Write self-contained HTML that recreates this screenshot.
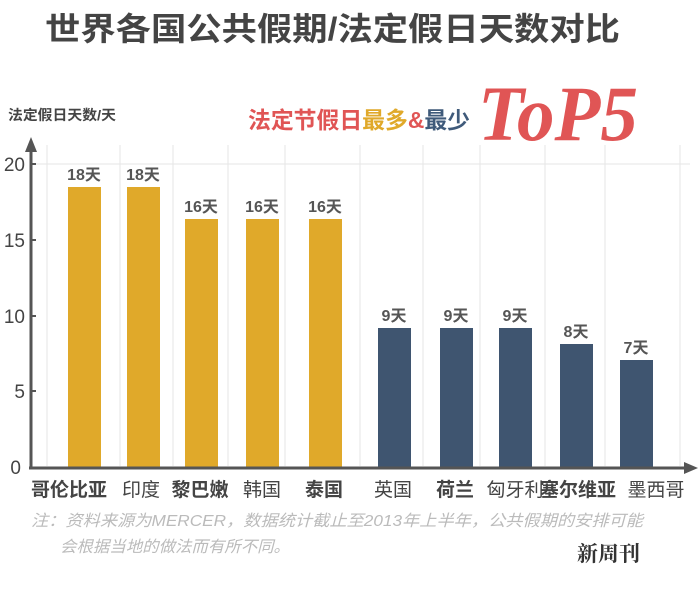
<!DOCTYPE html><html><head><meta charset="utf-8"><style>
body{margin:0;background:#fff;width:700px;height:585px;overflow:hidden;font-family:"Liberation Sans","Noto Sans CJK SC",sans-serif}
</style></head><body>
<svg width="700" height="585" xmlns="http://www.w3.org/2000/svg" font-family="Liberation Sans, Noto Sans CJK SC, sans-serif">
<text x="45" y="40" font-size="32" font-weight="bold" fill="#444" textLength="575" lengthAdjust="spacingAndGlyphs">世界各国公共假期/法定假日天数对比</text>
<text x="8" y="120" font-size="14" font-weight="bold" fill="#444" textLength="108" lengthAdjust="spacingAndGlyphs">法定假日天数/天</text>
<text x="248" y="128" font-size="23" font-weight="bold" textLength="222" lengthAdjust="spacingAndGlyphs"><tspan fill="#e05555">法定节假日</tspan><tspan fill="#e0a92a">最多</tspan><tspan fill="#e05555">&amp;</tspan><tspan fill="#3f5a7a">最少</tspan></text>
<text x="478" y="140" font-size="78" font-style="italic" font-weight="bold" fill="#e05555" font-family="Liberation Serif, serif" textLength="160" lengthAdjust="spacingAndGlyphs">ToP5</text>
<g stroke="#e6e6e6" stroke-width="1">
<line x1="35" y1="164" x2="690" y2="164"/>
<line x1="47" y1="145" x2="47" y2="466"/><line x1="120" y1="145" x2="120" y2="466"/><line x1="173" y1="145" x2="173" y2="466"/><line x1="228" y1="145" x2="228" y2="466"/><line x1="285" y1="145" x2="285" y2="466"/><line x1="360" y1="145" x2="360" y2="466"/><line x1="423" y1="145" x2="423" y2="466"/><line x1="480" y1="145" x2="480" y2="466"/><line x1="545" y1="145" x2="545" y2="466"/><line x1="605" y1="145" x2="605" y2="466"/><line x1="680" y1="145" x2="680" y2="466"/>
</g>
<g fill="#e0a92a">
<rect x="68" y="187" width="33" height="280"/><rect x="127" y="187" width="33" height="280"/><rect x="185" y="219" width="33" height="248"/><rect x="246" y="219" width="33" height="248"/><rect x="309" y="219" width="33" height="248"/>
</g>
<g fill="#3f5570">
<rect x="378" y="328" width="33" height="139"/><rect x="440" y="328" width="33" height="139"/><rect x="499" y="328" width="33" height="139"/><rect x="560" y="344" width="33" height="123"/><rect x="620" y="360" width="33" height="107"/>
</g>
<g font-size="16" fill="#555" text-anchor="middle" font-weight="bold">
<text x="84" y="180">18天</text><text x="143" y="180">18天</text><text x="201" y="212">16天</text><text x="262" y="212">16天</text><text x="325" y="212">16天</text>
<text x="394" y="321">9天</text><text x="456" y="321">9天</text><text x="515" y="321">9天</text><text x="576" y="337">8天</text><text x="636" y="353">7天</text>
</g>
<g stroke="#555" stroke-width="3" fill="none"><line x1="31" y1="150" x2="31" y2="468"/><line x1="29" y1="468" x2="690" y2="468"/></g>
<polygon points="31,137 25,152 37,152" fill="#555"/><polygon points="698,468 684,462 684,474" fill="#555"/>
<g stroke="#555" stroke-width="2"><line x1="31" y1="164" x2="36" y2="164"/><line x1="31" y1="240" x2="36" y2="240"/><line x1="31" y1="316" x2="36" y2="316"/><line x1="31" y1="391" x2="36" y2="391"/></g>
<g font-size="19" fill="#444" text-anchor="end"><text x="25" y="171">20</text><text x="25" y="247">15</text><text x="25" y="323">10</text><text x="25" y="398">5</text><text x="21" y="474">0</text></g>
<g font-size="19" fill="#444" text-anchor="middle">
<text x="69" y="496" font-weight="bold">哥伦比亚</text><text x="141" y="496">印度</text><text x="200" y="496" font-weight="bold">黎巴嫩</text><text x="262" y="496">韩国</text><text x="324" y="496" font-weight="bold">泰国</text><text x="393" y="496">英国</text><text x="455" y="496" font-weight="bold">荷兰</text><text x="515" y="496">匈牙利</text><text x="578" y="496" font-weight="bold">塞尔维亚</text><text x="656" y="496">墨西哥</text>
</g>
<text x="31" y="526" font-size="16" font-style="italic" fill="#bbb" textLength="612" lengthAdjust="spacingAndGlyphs">注：资料来源为MERCER，数据统计截止至2013年上半年，公共假期的安排可能</text>
<text x="60" y="552" font-size="16" font-style="italic" fill="#bbb" textLength="230" lengthAdjust="spacingAndGlyphs">会根据当地的做法而有所不同。</text>
<text x="577" y="561" font-size="21" font-weight="bold" fill="#333" font-family="Noto Serif CJK SC, serif">新周刊</text>
</svg>
</body></html>
